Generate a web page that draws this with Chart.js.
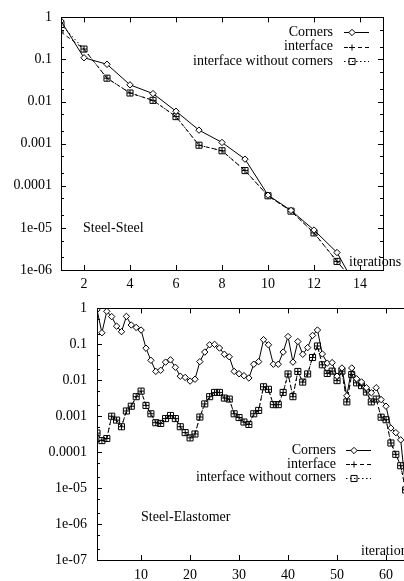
<!DOCTYPE html>
<html><head><meta charset="utf-8">
<script src="https://cdn.jsdelivr.net/npm/chart.js@4"></script>
<style>
html,body{margin:0;padding:0;background:#fff;width:404px;height:581px;overflow:hidden;position:relative}
canvas{position:absolute;left:0}
#c1{top:0}
#c2{top:290px}
</style></head><body>
<canvas id="c1" width="404" height="290"></canvas>
<canvas id="c2" width="460" height="291"></canvas>
<script>
// ---------- data ----------
const seriesNames = ['Corners', 'interface', 'interface without corners'];

// Steel-Steel
const steelIterations = [1,2,3,4,5,6,7,8,9,10,11,12,13,14];
const steelCorners = [0.82,0.11,0.077,0.025,0.0155,0.0059,0.0021,0.00107,0.00043,6.0e-5,2.6e-5,8.9e-6,2.6e-6,2.7e-7];
const steelInterface = [0.45,0.177,0.036,0.016,0.0107,0.0044,0.00092,0.00068,0.00023,5.8e-5,2.5e-5,7.6e-6,1.6e-6,3.6e-7];
const steelInterfaceNoCorners = [0.68,0.177,0.036,0.016,0.0107,0.0044,0.00092,0.00068,0.00023,5.8e-5,2.5e-5,7.6e-6,1.6e-6,3.6e-7];
const steelXTicks = [2,4,6,8,10,12,14];
const steelYTicks = [1,0.1,0.01,0.001,0.0001,1e-5,1e-6];
const steelYTickLabels = ['1','0.1','0.01','0.001','0.0001','1e-05','1e-06'];

// Steel-Elastomer
const elastoIterations = [1,2,3,4,5,6,7,8,9,10,11,12,13,14,15,16,17,18,19,20,21,22,23,24,25,26,27,28,29,30,31,32,
  33,34,35,36,37,38,39,40,41,42,43,44,45,46,47,48,49,50,51,52,53,54,55,56,57,58,59,60,61,62,63,64];
const elastoCorners = [0.92,0.21,0.83,0.59,0.32,0.225,0.6,0.345,0.295,0.25,0.078,0.036,0.0177,0.019,0.032,0.037,
  0.023,0.013,0.012,0.0095,0.0107,0.033,0.061,0.097,0.1,0.079,0.053,0.045,0.0177,0.0152,0.0134,0.0116,
  0.028,0.033,0.135,0.097,0.028,0.028,0.061,0.165,0.032,0.12,0.053,0.081,0.177,0.25,0.054,0.03,
  0.031,0.013,0.022,0.0037,0.022,0.011,0.009,0.0062,0.0045,0.0062,0.0029,0.0019,0.00047,0.00035,0.00022,1.0e-5];
const elastoInterface = [0.00034,0.00021,0.00024,0.001,0.00078,0.00051,0.0014,0.0019,0.0035,0.005,0.002,0.00117,0.00066,0.00063,0.00086,0.00105,
  0.00086,0.00051,0.00035,0.00025,0.00032,0.00095,0.0022,0.0035,0.0046,0.0046,0.0032,0.003,0.00117,0.00092,0.00069,0.00059,
  0.00117,0.00145,0.0066,0.0056,0.0021,0.0021,0.0046,0.015,0.0035,0.0176,0.0089,0.015,0.043,0.09,0.027,0.0155,
  0.018,0.0098,0.018,0.0025,0.0144,0.0085,0.0071,0.0047,0.0025,0.003,0.00094,0.0008,0.00018,8.7e-5,4.2e-5,8.9e-6];
const elastoInterfaceNoCorners = [0.00034,0.00021,0.00024,0.001,0.00078,0.00051,0.0014,0.0019,0.0035,0.005,0.002,0.00117,0.00066,0.00063,0.00086,0.00105,
  0.00086,0.00051,0.00035,0.00025,0.00032,0.00095,0.0022,0.0035,0.0046,0.0046,0.0032,0.003,0.00117,0.00092,0.00069,0.00059,
  0.00117,0.00145,0.0066,0.0056,0.0021,0.0021,0.0046,0.015,0.0035,0.0176,0.0089,0.015,0.043,0.09,0.027,0.0155,
  0.018,0.0098,0.018,0.0025,0.0144,0.0085,0.0071,0.0047,0.0025,0.003,0.00094,0.0008,0.00018,8.7e-5,4.2e-5,8.9e-6];
const elastoXTicks = [10,20,30,40,50,60];
const elastoYTicks = [1,0.1,0.01,0.001,0.0001,1e-5,1e-6,1e-7];
const elastoYTickLabels = ['1','0.1','0.01','0.001','0.0001','1e-05','1e-06','1e-07'];

const xTitle = 'iterations';
const panelTitles = ['Steel-Steel', 'Steel-Elastomer'];

// ---------- rendering ----------
Chart.defaults.font.family = "'Liberation Serif', 'DejaVu Serif', serif";
Chart.defaults.font.size = 14;
Chart.defaults.color = '#000';

function pairs(xs, ys) { return xs.map((x, i) => ({x: x, y: ys[i]})); }

function makeDatasets(xs, c, inter, noc) {
  return [
    {label: seriesNames[0], data: pairs(xs, c), borderColor: '#000', borderWidth: 1,
     pointStyle: 'rectRot', pointRadius: 3.2, pointBackgroundColor: '#fff', pointBorderColor: '#000', pointBorderWidth: 1},
    {label: seriesNames[1], data: pairs(xs, inter), borderColor: '#000', borderWidth: 1, borderDash: [4, 3],
     pointStyle: 'cross', pointRadius: 3, pointBorderColor: '#000', pointBorderWidth: 1},
    {label: seriesNames[2], data: pairs(xs, noc), borderColor: '#000', borderWidth: 1, borderDash: [1.5, 2.5],
     pointStyle: 'rect', pointRadius: 4.3, pointBackgroundColor: 'rgba(0,0,0,0)', pointBorderColor: '#000', pointBorderWidth: 1}
  ];
}

function drawMarker(ctx, style, r, x, y) {
  ctx.save();
  ctx.setLineDash([]);
  ctx.beginPath();
  if (style === 'rectRot') {
    ctx.moveTo(x, y - r); ctx.lineTo(x + r, y); ctx.lineTo(x, y + r); ctx.lineTo(x - r, y); ctx.closePath();
    ctx.fillStyle = '#fff'; ctx.fill(); ctx.stroke();
  } else if (style === 'cross') {
    ctx.moveTo(x, y - r); ctx.lineTo(x, y + r); ctx.moveTo(x - r, y); ctx.lineTo(x + r, y); ctx.stroke();
  } else {
    const s = r * Math.SQRT1_2;
    ctx.rect(x - s, y - s, 2 * s, 2 * s); ctx.stroke();
  }
  ctx.restore();
}

const framePlugin = {
  id: 'frame',
  afterDraw(chart, args, o) {
    const ctx = chart.ctx;
    const {left, right, top, bottom} = chart.chartArea;
    const xs = chart.scales.x, ys = chart.scales.y;
    ctx.save();
    ctx.strokeStyle = '#000';
    ctx.lineWidth = 1;
    ctx.setLineDash([]);
    ctx.beginPath();
    const big = 5, small = 3;
    o.xTicks.forEach(v => {
      const px = Math.round(xs.getPixelForValue(v)) + 0.5;
      ctx.moveTo(px, bottom); ctx.lineTo(px, bottom - big);
      ctx.moveTo(px, top); ctx.lineTo(px, top + big);
    });
    o.yTicks.forEach((v, i) => {
      const py = Math.round(ys.getPixelForValue(v)) + 0.5;
      ctx.moveTo(left, py); ctx.lineTo(left + big, py);
      ctx.moveTo(right, py); ctx.lineTo(right - big, py);
      if (i > 0) {
        [5, 2].forEach(m => {
          const q = Math.round(ys.getPixelForValue(v * m)) + 0.5;
          ctx.moveTo(left, q); ctx.lineTo(left + small, q);
          ctx.moveTo(right, q); ctx.lineTo(right - small, q);
        });
      }
    });
    ctx.stroke();
    ctx.strokeRect(Math.round(left) + 0.5, Math.round(top) + 0.5, Math.round(right - left), Math.round(bottom - top));

    // text annotations
    ctx.fillStyle = '#000';
    ctx.font = "14px 'Liberation Serif', serif";
    ctx.textBaseline = 'middle';
    ctx.textAlign = 'left';
    ctx.fillText(o.title, o.titleX, o.titleY);
    ctx.fillText(xTitle, o.xlabX, o.xlabY);

    // legend (gnuplot style)
    chart.data.datasets.forEach((ds, i) => {
      const y = o.legY + i * o.legDy;
      ctx.textAlign = 'right';
      ctx.fillText(ds.label, o.legTextRight, y);
      ctx.save();
      ctx.beginPath();
      ctx.setLineDash(ds.borderDash || []);
      ctx.moveTo(o.legX0, Math.round(y) + 0.5); ctx.lineTo(o.legX1, Math.round(y) + 0.5);
      ctx.stroke();
      ctx.restore();
      drawMarker(ctx, ds.pointStyle, ds.pointRadius, o.legMark, Math.round(y) + 0.5);
    });
    ctx.restore();
  }
};

function makeChart(id, xs, c, inter, noc, cfg) {
  return new Chart(document.getElementById(id), {
    type: 'line',
    data: {datasets: makeDatasets(xs, c, inter, noc)},
    plugins: [framePlugin],
    options: {
      responsive: false, animation: false, devicePixelRatio: 1,
      layout: {padding: cfg.padding},
      plugins: {legend: {display: false}, tooltip: {enabled: false}, frame: cfg.frame},
      scales: {
        x: {type: 'linear', min: cfg.xmin, max: cfg.xmax,
            grid: {display: false, drawTicks: false}, border: {display: false},
            ticks: {padding: cfg.xpad, maxRotation: 0, autoSkip: false},
            afterBuildTicks: s => { s.ticks = cfg.frame.xTicks.map(v => ({value: v})); },
            afterFit: s => { s.height = cfg.xh; }},
        y: {type: 'logarithmic', min: cfg.ymin, max: 1,
            grid: {display: false, drawTicks: false}, border: {display: false},
            ticks: {padding: cfg.ypad, autoSkip: false, callback: (v, i) => cfg.yLabels[i]},
            afterBuildTicks: s => { s.ticks = cfg.frame.yTicks.map(v => ({value: v})); },
            afterFit: s => { s.width = cfg.yw; }}
      }
    }
  });
}

makeChart('c1', steelIterations, steelCorners, steelInterface, steelInterfaceNoCorners, {
  padding: {left: 0, top: 12, right: 21, bottom: 0},
  xmin: 1, xmax: 15, ymin: 1e-6, xh: 20, yw: 61, xpad: 6, ypad: 9,
  yLabels: steelYTickLabels,
  frame: {xTicks: steelXTicks, yTicks: steelYTicks,
    title: panelTitles[0], titleX: 83, titleY: 228, xlabX: 349, xlabY: 262,
    legY: 32, legDy: 14.5, legTextRight: 333, legX0: 344, legX1: 369, legMark: 352}
});

makeChart('c2', elastoIterations, elastoCorners, elastoInterface, elastoInterfaceNoCorners, {
  padding: {left: 0, top: 12, right: 25, bottom: 0},
  xmin: 1, xmax: 70, ymin: 1e-7, xh: 21, yw: 97, xpad: 7, ypad: 10,
  yLabels: elastoYTickLabels,
  frame: {xTicks: elastoXTicks, yTicks: elastoYTicks,
    title: panelTitles[1], titleX: 141, titleY: 227, xlabX: 361, xlabY: 261,
    legY: 160, legDy: 13.9, legTextRight: 336, legX0: 346, legX1: 371, legMark: 354}
});
</script>
</body></html>
